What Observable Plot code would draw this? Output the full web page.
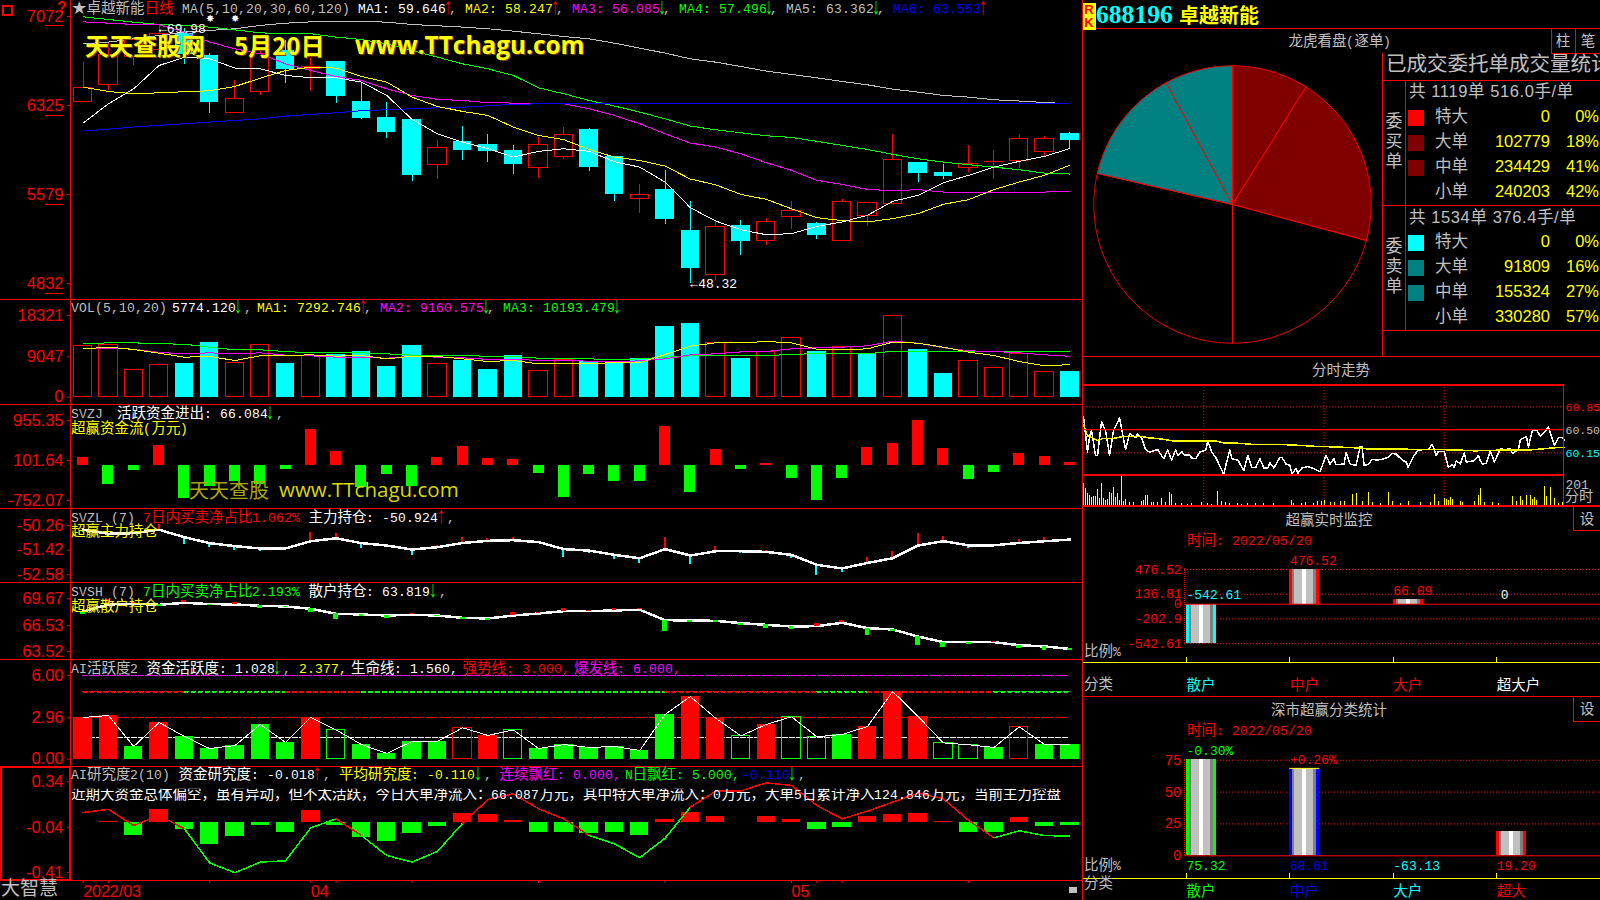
<!DOCTYPE html>
<html><head><meta charset="utf-8">
<script src="https://cdn.jsdelivr.net/npm/d3@7"></script>
<script src="https://cdn.jsdelivr.net/npm/@observablehq/plot@0.6"></script>
<style>
@font-face{font-family:LM;src:local("Liberation Mono");size-adjust:89%;unicode-range:U+20-7E,U+A0-FF,U+2190-2193;}
html,body{margin:0;padding:0;background:#000;}
#root{position:relative;width:1600px;height:900px;background:#000;overflow:hidden;font-family:LM,"Noto Sans CJK SC",sans-serif;font-size:14.5px;color:#c0c0c0;}
.t{position:absolute;white-space:pre;transform:translateY(-50%);line-height:1;}
.l{position:absolute;background:#f00;}
.ar{display:inline-block;font:17px/0 "Liberation Mono";vertical-align:baseline;}
.ar b{display:inline-block;font-weight:normal;transform:translateX(-3px) scale(.9,1.35);transform-origin:50% 60%;}
svg{display:block;}
</style></head><body><div id="root"></div>
<script>
const dates=["03-21","03-22","03-23","03-24","03-25","03-28","03-29","03-30","03-31","04-01","04-06","04-07","04-08","04-11","04-12","04-13","04-14","04-15","04-18","04-19","04-20","04-21","04-22","04-25","04-26","04-27","04-28","04-29","05-05","05-06","05-09","05-10","05-11","05-12","05-13","05-16","05-17","05-18","05-19","05-20"];
const open=[63.54,64.97,67.31,67.87,69.27,67.45,62.62,64.38,67.87,66.28,66.95,63.60,62.26,62.09,58.26,60.25,60.00,59.49,58.01,58.93,61.25,58.99,55.41,56.22,52.79,49.05,53.21,51.89,53.90,53.35,51.89,53.99,55.00,58.49,57.65,58.01,58.49,58.60,59.32,60.94];
const close=[64.74,67.51,68.71,69.27,67.54,63.54,63.82,67.59,66.28,66.47,64.02,62.17,61.00,57.40,59.71,59.49,59.41,58.32,59.97,60.80,58.07,55.80,55.78,53.71,49.60,53.10,51.87,53.51,54.44,52.37,55.19,55.11,58.71,57.56,57.31,58.32,58.54,60.47,60.47,60.33];
const high=[66.87,68.43,68.99,69.98,69.69,67.59,65.36,68.01,68.71,67.37,66.95,65.13,63.51,62.09,60.33,61.50,60.83,59.91,60.58,61.42,61.33,58.99,56.64,57.82,55.22,53.63,53.63,53.79,55.22,53.46,55.39,55.11,60.83,58.49,58.35,59.91,59.49,60.83,60.66,61.03];
const low=[63.54,64.52,66.61,67.26,66.70,62.62,62.62,64.10,65.13,64.46,63.46,62.09,60.53,56.92,57.06,58.65,58.49,57.48,57.17,58.74,57.73,55.22,54.16,53.29,48.32,48.60,50.69,51.53,52.87,52.03,51.89,53.12,55.00,56.81,57.06,57.65,57.06,57.98,58.93,59.57];
const ma5=[61.78,63.40,64.66,66.61,67.31,67.17,66.39,66.33,65.78,65.58,65.58,65.22,64.10,62.09,60.89,60.19,59.63,58.93,59.41,59.63,59.41,58.54,58.09,56.84,54.69,53.57,52.84,52.42,52.51,53.12,53.49,54.05,55.22,55.72,56.78,57.40,58.09,58.57,58.99,59.65];
const ma10=[64.80,64.43,64.24,64.32,64.41,64.49,64.85,65.55,66.19,66.47,66.39,65.69,65.22,63.96,63.18,62.76,62.42,61.45,60.75,60.39,59.57,58.93,58.65,58.18,57.09,56.61,55.80,55.39,54.60,53.85,53.60,53.49,53.77,54.19,54.97,55.36,56.20,56.84,57.40,58.25];
const ma20=[70.27,70.16,70.05,70.02,69.41,68.57,68.01,67.59,66.75,66.19,65.69,65.36,64.66,64.10,63.77,63.68,63.49,63.46,63.46,63.40,62.98,62.42,61.73,60.89,60.11,59.77,59.21,58.46,57.82,56.98,56.64,56.22,56.11,56.20,56.00,55.94,55.94,56.00,56.00,56.06];
const ma30=[70.69,70.47,70.24,70.05,69.97,69.83,69.60,69.35,69.27,69.27,68.99,68.79,68.43,67.87,67.31,66.75,66.33,65.78,64.74,64.24,63.68,63.21,62.70,62.14,61.53,61.22,60.97,60.72,60.58,60.25,59.91,59.57,59.16,58.79,58.51,58.29,58.09,57.87,57.59,57.51];
const ma60=[68.43,68.57,68.85,69.13,69.41,69.55,69.69,69.97,70.16,70.27,70.33,70.33,70.24,70.05,69.94,69.83,69.69,69.49,69.27,69.04,68.85,68.48,68.07,67.65,67.17,66.89,66.53,66.14,65.86,65.58,65.27,64.99,64.63,64.38,64.10,63.96,63.74,63.63,63.51,63.40];
const ma120=[61.11,61.28,61.45,61.59,61.73,61.87,62.00,62.14,62.37,62.51,62.65,62.82,62.90,62.98,63.07,63.12,63.23,63.35,63.40,63.43,63.46,63.46,63.46,63.46,63.46,63.46,63.46,63.46,63.46,63.40,63.40,63.40,63.40,63.40,63.40,63.40,63.40,63.40,63.40,63.40];
const vol=[11516,11740,6132,7254,7553,12264,7702,11740,7553,9198,9497,10245,6880,11591,7478,8300,6207,9273,5982,8226,8076,7927,8600,15853,16526,12189,8674,10021,13311,10245,11142,9721,18246,10694,5309,8151,6581,9721,5683,5774];
const volColor=["r","r","r","r","c","c","r","r","c","r","c","c","c","c","r","c","c","c","r","r","c","c","c","c","c","r","c","r","r","c","r","c","r","c","c","r","r","r","r","c"];
const volMa5=[10843,11217,10694,9871,8974,9123,8226,9273,9348,9497,9198,9348,8600,9198,9123,8600,8001,8226,7478,7478,7478,7777,7702,9572,11441,12189,12189,12488,12189,10768,10619,10843,12339,12114,11217,10095,9348,8001,7029,7293];
const volMa10=[10843,10993,10768,10021,9721,9946,9721,9946,9422,9273,8974,8899,8749,9198,8974,8824,8450,8525,8226,8226,8076,7927,8151,8600,9497,9721,10170,10245,10843,11067,11217,11516,12563,12114,11067,10394,10245,9946,9497,9161];
const volMa20=[11965,12189,12189,11965,11890,11217,10619,10619,10245,9946,9946,9946,9721,9422,9422,9422,9123,9123,8749,8749,8600,8375,8600,8974,9273,9273,9422,9273,9647,9721,9721,9721,10320,10170,10170,10170,10170,10170,10170,10193];
const flow=[171,-405,-107,427,-704,-448,-341,-400,-85,768,299,-462,-192,-448,171,405,149,128,-171,-683,-192,-341,-341,832,-576,341,-85,43,-277,-747,-277,384,469,960,363,-299,-149,256,192,66];
const zhuli=[-50.46,-50.65,-50.62,-50.46,-50.81,-51.09,-51.23,-51.34,-51.34,-51.00,-50.86,-51.09,-51.20,-51.39,-51.28,-51.08,-50.98,-50.95,-51.04,-51.37,-51.44,-51.64,-51.80,-51.37,-51.67,-51.47,-51.47,-51.50,-51.64,-52.11,-52.28,-52.02,-51.80,-51.20,-51.00,-51.19,-51.19,-51.08,-51.00,-50.92];
const zhuliDelta=[-.13,-.16,.05,.25,-.36,-.19,-.19,-.16,-.08,.41,.22,-.25,-.09,-.27,.09,.24,.11,.13,-.06,-.38,-.14,-.20,-.24,.55,-.41,.22,-.09,.05,-.17,-.49,-.17,.25,.31,.56,.22,-.16,-.09,.17,.17,.02];
const sanhu=[68.19,69.01,69.09,68.97,69.20,69.05,69.01,68.85,68.78,68.50,67.92,67.84,67.72,67.80,67.72,67.45,67.37,67.72,67.96,68.23,68.23,68.31,68.39,67.18,67.14,67.10,66.83,66.63,66.44,66.48,66.87,66.25,66.09,65.27,64.61,64.61,64.61,64.26,64.11,63.82];
const sanhuDelta=[-.39,.58,.16,-.19,.27,-.19,.19,-.27,-.12,-.39,-.62,-.19,-.31,.19,-.12,-.16,-.19,.39,.16,.31,.12,.23,.16,-1.28,-.23,-.19,-.31,-.43,-.35,.35,.31,-.82,-.23,-1.05,-.58,-.23,.12,-.35,-.47,-.16];
const active=[2.99,3.13,.91,2.63,1.63,.76,.98,2.49,1.20,2.99,2.10,1.05,.41,1.27,1.27,2.25,1.70,2.10,.76,1.05,.84,.91,.62,3.20,4.49,2.94,1.67,2.49,3.04,1.61,1.77,2.34,4.85,3.06,1.17,1.03,.84,2.32,1.05,1.03];
const activeKind=["R","R","G","R","G","G","G","G","G","R","g","G","G","G","G","r","R","g","G","G","G","G","G","G","R","R","g","R","g","g","G","R","R","R","g","g","G","r","G","G"];
const upperKind=["r","r","r","r","g","g","g","g","r","r","r","g","g","g","g","g","g","g","g","g","g","g","g","r","r","r","r","r","r","g","g","r","r","r","r","r","g","g","g","g"];
const activeLevels=[6,4.83,3,1.56];
const research=[.005,.008,-.107,.108,-.05,-.18,-.116,-.025,-.075,.10,-.017,-.124,-.157,-.091,-.033,.075,.066,.017,-.083,-.075,-.091,-.075,-.107,.025,.09,.05,.003,.05,.025,-.05,-.041,.05,.066,.075,.008,-.083,-.083,.041,-.033,-.018];
const researchAvg=[.087,.112,-.021,.062,-.048,-.330,-.412,-.324,-.313,-.040,.034,-.104,-.269,-.324,-.236,-.003,.194,.241,.117,.034,-.104,-.172,-.288,-.126,.131,.263,.266,.332,.310,.145,.034,.098,.172,.247,.200,.021,-.123,-.065,-.104,-.109];
const weekTicks=["03-21","03-22","03-28","04-01","04-06","04-11","04-18","04-25","05-05","05-06","05-09","05-16"];
const monthLabels=[["03-21","2022/03"],["04-01","04"],["05-05","05"]];
const pieLabels=["大单","中单","小单","小单","中单","大单"];
const pieValues=[102779,234429,240203,330280,155324,91809];
const pieFill=["#800000","#800000","#000000","#000000","#008080","#008080"];
const tickT=[0,1,2,3,4,6,7,9,11,13,15,18,21,23,26,27,29,31,33,37,40,42,44,46,47,49,50,53,54,56,58,61,62,64,66,70,71,73,74,77,80,82,84,86,88,90,92,93,95,98,99,101,103,104,106,107,109,112,115,118,121,123,125,126,130,131,133,136,138,139,140,142,144,147,150,152,154,156,159,161,162,165,167,170,172,174,176,177,180,182,184,185,186,188,190,191,195,197,198,199,201,203,205,208,210,213,214,217,218,221,222,224,226,228,232,235,237,239,240];
const tickP=[60.70,60.44,60.16,60.39,60.49,60.11,60.11,60.62,60.49,60.11,60.49,60.68,60.20,60.44,60.38,60.44,60.38,60.20,60.16,60.20,60.06,60.19,60.04,60.20,60.11,60.17,60.12,60.12,60.07,60.06,60.16,60.19,60.33,60.16,60.08,59.82,59.96,60.19,60.06,60.04,59.88,60.11,59.93,59.93,60.06,59.92,59.92,60.00,59.92,60.08,60.08,59.98,59.96,59.83,59.91,59.84,59.92,59.94,59.91,59.86,60.11,59.98,60.06,59.97,59.98,60.16,59.98,59.96,60.24,60.24,59.96,59.97,60.05,60.04,60.06,60.08,60.14,60.13,60.04,60.01,59.93,60.11,60.19,60.20,60.20,60.28,60.11,60.17,60.17,59.93,59.97,59.93,60.03,59.98,60.15,60.01,60.03,60.11,60.03,59.98,59.99,60.18,60.01,60.21,60.20,60.21,60.14,60.20,60.35,60.40,60.24,60.49,60.50,60.40,60.54,60.26,60.38,60.38,60.34];
const avgT=[0,2,7,10,15,20,29,32,39,45,55,66,70,75,84,95,104,115,125,134,142,155,167,177,189,195,207,221,229,236,240];
const avgP=[60.58,60.41,60.34,60.37,60.37,60.40,60.40,60.38,60.36,60.33,60.33,60.33,60.30,60.30,60.28,60.28,60.27,60.25,60.24,60.23,60.21,60.21,60.20,60.20,60.19,60.18,60.19,60.19,60.21,60.23,60.23];
const minT=[0,1,2,3,4,5,6,7,8,9,10,11,12,13,14,15,16,17,18,19,20,21,23,25,29,30,31,32,34,35,37,39,41,43,44,46,49,52,54,59,62,64,67,69,71,73,77,79,82,86,90,95,104,105,109,111,115,117,119,120,123,125,128,130,134,136,139,142,144,148,152,154,158,162,168,173,175,177,180,181,182,183,184,188,189,195,197,198,200,204,207,214,216,218,219,221,223,224,225,226,230,231,233,235,237,239];
const minV=[211,163,115,96,77,86,86,154,67,211,67,48,58,125,115,173,77,115,50,298,40,58,30,25,40,50,96,96,30,30,25,67,25,125,106,20,18,12,15,30,15,10,134,40,30,20,15,12,15,15,20,20,50,20,15,25,20,40,35,50,30,30,35,40,106,115,40,125,25,20,125,40,20,40,25,30,106,40,67,60,50,77,60,40,30,40,96,163,25,25,20,86,40,86,50,96,96,60,77,50,182,86,173,67,20,25];
const priceTicks=[[60.85,"60.85","#ff0000"],[60.50,"60.50","#c0c0c0"],[60.15,"60.15","#00ffff"]];
const cats=["散户","中户","大户","超大户"];
const monitor=[-542.61,476.52,66.09,0];
const monitorTicks=[476.52,136.81,0,-202.9,-542.61];
const monitorColor=["#00ffff","#ff0000","#ff0000","#ffffff"];
const cats2=["散户","中户","大户","超大"];
const share=[75.32,68.61,-63.13,19.20];
const shareEdge=["#00ff00","#0000ff","#00ffff","#ff0000"];
const shareChange=[["散户","-0.30%","#00ff00",75.32],["中户","+0.26%","#ff0000",68.61]];
const shareTicks=[75,50,25,0];

const root=document.getElementById("root");
const RED="#ff0000",CY="#00ffff",GR="#00ff00",MG="#ff00ff",YL="#ffff00",GY="#c0c0c0",WH="#ffffff",BL="#0000ff";
const rows=dates.map((d,i)=>({d,i,open:open[i],close:close[i],high:high[i],low:low[i],up:close[i]>=open[i]}));
const series=a=>dates.map((d,i)=>({d,v:a[i]}));
const crisp={shapeRendering:"crispEdges"};
const lineOf=(a,stroke,w=1)=>Plot.line(series(a),{x:"d",y:"v",stroke,strokeWidth:w,...crisp});
const bandX={type:"band",domain:dates,paddingInner:.27,paddingOuter:.135,round:false,axis:null};

function pane(top,h,domain,ticks,fmt,marks){
  const svg=Plot.plot({width:1082,height:h,marginLeft:70,marginRight:0,marginTop:0,marginBottom:0,
    style:{position:"absolute",left:"0px",top:top+"px",background:"transparent",overflow:"visible",color:RED},
    x:bandX,y:{domain,range:[h,0],axis:null},color:{type:"identity"},
    marks:[...marks,Plot.axisY(ticks,{anchor:"left",tickSize:3,tickPadding:4,tickFormat:fmt,color:RED,fontSize:16.5,fontFamily:"Liberation Sans",label:null})]});
  root.append(svg);return svg;
}
const hl=(x1,x2,y,w=1,c=RED)=>{const e=document.createElement("div");e.className="l";e.style.cssText=`left:${x1}px;top:${y}px;width:${x2-x1}px;height:${w}px;background:${c}`;root.append(e);};
const vl=(x,y1,y2,w=1,c=RED)=>{const e=document.createElement("div");e.className="l";e.style.cssText=`left:${x}px;top:${y1}px;width:${w}px;height:${y2-y1}px;background:${c}`;root.append(e);};
const T=(x,y,html,css="")=>{const plain=!/font/.test(css);const e=document.createElement("div");e.className="t";e.style.cssText=`left:${x}px;top:${y+(plain?1.5:0)}px;${css}`;e.innerHTML=html;root.append(e);return e;};
const s=(c,t)=>`<span style="color:${c}">${t}</span>`;
const arrow=(c,ch,w)=>`<span class="ar" style="color:${c};width:${w}px"><b>${ch}</b></span>`;
const up=arrow(RED,"↑",8),dn=arrow(GR,"↓",8),upN=arrow(RED,"↑",3),dnN=arrow(GR,"↓",3);
const gap=n=>`<span style="margin-left:${-n}px"> </span>`;

const main=pane(0,299,[46.99,72.06],[48.32,55.79,63.25,70.72],d=>String(Math.round(d*100)),[
  Plot.ruleX(rows,{x:"d",y1:"low",y2:"high",stroke:d=>d.up?RED:CY,...crisp}),
  Plot.barY(rows.filter(d=>d.up),{x:"d",y1:"open",y2:"close",fill:"#000",stroke:RED,...crisp}),
  Plot.barY(rows.filter(d=>!d.up),{x:"d",y1:"open",y2:"close",fill:CY,...crisp}),
  lineOf(ma60,GY),lineOf(ma30,GR),lineOf(ma20,MG),lineOf(ma120,BL),lineOf(ma10,YL),lineOf(ma5,WH),
  Plot.text([{d:"03-24",v:69.98,t:"←69.98"}],{x:"d",y:"v",text:"t",fill:WH,textAnchor:"start",dy:4,fontSize:13,fontFamily:"Liberation Mono"}),
  Plot.text([{d:"04-26",v:48.32,t:"←48.32"}],{x:"d",y:"v",text:"t",fill:WH,textAnchor:"start",fontSize:13,fontFamily:"Liberation Mono"}),
  Plot.text([{d:"03-28"},{d:"03-29"}],{x:"d",y:()=>70.52,text:()=>"✸",fill:WH,fontSize:10})
]);
[48.32,55.79,63.25,70.72].forEach(v=>hl(45,63,main.scale("y").apply(v)+9.5,1));

pane(299,105,[-1644,21907],[0,9047,18321],d=>String(d),[
  Plot.barY(series(vol).map((o,i)=>({...o,c:volColor[i]})).filter(o=>o.c==="c"),{x:"d",y1:()=>0,y2:"v",fill:CY,...crisp}),
  Plot.barY(series(vol).map((o,i)=>({...o,c:volColor[i]})).filter(o=>o.c==="r"),{x:"d",y1:()=>0,y2:"v",fill:"none",stroke:RED,...crisp}),
  lineOf(volMa20,GR),lineOf(volMa10,MG),lineOf(volMa5,YL)
]);

pane(404,104,[-918,1302],[955.35,101.64,-752.07],d=>d.toFixed(2),[
  Plot.barY(series(flow),{x:"d",y1:()=>0,y2:"v",fill:d=>d.v>=0?RED:GR,insetLeft:3.7,insetRight:3.7,...crisp})
]);

pane(508,74,[-52.94,-49.46],[-50.26,-51.42,-52.58],d=>d.toFixed(2),[
  Plot.barY(series(zhuli).map((o,i)=>({...o,e:o.v+zhuliDelta[i]})),{x:"d",y1:"v",y2:"e",fill:d=>d.e>=d.v?RED:CY,insetLeft:8.2,insetRight:8.2,...crisp}),
  lineOf(zhuli,WH,2.5)
]);

pane(582,77,[62.59,71.57],[69.67,66.53,63.52],d=>d.toFixed(2),[
  lineOf(sanhu,WH,2.5),
  Plot.barY(series(sanhu).map((o,i)=>({...o,e:o.v+sanhuDelta[i]})),{x:"d",y1:"v",y2:"e",fill:d=>d.e>=d.v?RED:GR,insetLeft:6.8,insetRight:6.8,...crisp})
]);

const kinds=series(active).map((o,i)=>({...o,k:activeKind[i]}));
pane(659,107,[-.526,7.146],[6,2.96,0],d=>d.toFixed(2),[
  Plot.line(dates,{x:d=>d,y:()=>activeLevels[0],stroke:MG,strokeDasharray:"4 3",...crisp}),
  Plot.line(dates,{x:d=>d,y:()=>activeLevels[1],stroke:(d,i)=>upperKind[i]==="r"?RED:GR,z:null,strokeDasharray:"4 3",...crisp}),
  Plot.line(dates,{x:d=>d,y:()=>activeLevels[2],stroke:RED,strokeDasharray:"4 3",...crisp}),
  Plot.line(dates,{x:d=>d,y:()=>activeLevels[3],stroke:WH,strokeDasharray:"4 3",...crisp}),
  Plot.barY(kinds.filter(o=>o.k==="R"||o.k==="G"),{x:"d",y1:()=>0,y2:"v",fill:o=>o.k==="R"?RED:GR,...crisp}),
  Plot.barY(kinds.filter(o=>o.k==="r"||o.k==="g"),{x:"d",y1:()=>0,y2:"v",fill:"none",stroke:o=>o.k==="r"?RED:GR,...crisp}),
  lineOf(active,WH)
]);

pane(766,114,[-.476,.467],[.34,-.04,-.41],d=>d.toFixed(2),[
  Plot.barY(series(research),{x:"d",y1:()=>0,y2:"v",fill:d=>d.v>=0?RED:GR,...crisp}),
  Plot.line(series(researchAvg),{x:"d",y:"v",stroke:d=>d.v>=-.03?RED:GR,z:null,...crisp})
]);

root.append(Plot.plot({width:1082,height:20,marginLeft:70,marginRight:0,marginTop:0,marginBottom:0,
  style:{position:"absolute",left:"0px",top:"880px",background:"transparent",color:RED},
  x:bandX,
  marks:[Plot.tickX(weekTicks,{x:d=>d,stroke:RED,insetBottom:17}),
    Plot.text(monthLabels,{x:d=>d[0],text:d=>d[1],textAnchor:"start",frameAnchor:"middle",dy:1,fill:RED,fontSize:16,fontFamily:"Liberation Sans"})]}));

const arcs=d3.pie().sort(null)(pieValues);
const pieMarks=arcs.map((a,i)=>{
  const pts=[[0,0],...d3.range(a.startAngle,a.endAngle,.01).map(t=>[Math.sin(t),Math.cos(t)]),[Math.sin(a.endAngle),Math.cos(a.endAngle)],[0,0]];
  return Plot.line(pts,{x:"0",y:"1",fill:pieFill[i],stroke:RED,strokeWidth:1,title:()=>pieLabels[i]});
});
root.append(Plot.plot({width:280,height:280,margin:0,
  style:{position:"absolute",left:"1092px",top:"64px",background:"transparent"},
  x:{domain:[-1,1],range:[1.3,278.7],axis:null},y:{domain:[-1,1],range:[278.7,1.3],axis:null},
  marks:pieMarks}));

const ptsP=tickT.map((t,i)=>({t,p:tickP[i]}));
const ptsA=avgT.map((t,i)=>({t,p:avgP[i]}));
root.append(Plot.plot({width:517,height:90,marginLeft:0,marginRight:36,marginTop:0,marginBottom:0,
  style:{position:"absolute",left:"1083px",top:"384px",background:"transparent",overflow:"visible"},
  x:{domain:[0,240],axis:null},y:{domain:[59.82,61.19],axis:null},
  marks:[
    Plot.ruleX([60,120,180],{stroke:RED,strokeDasharray:"1 2"}),
    Plot.ruleY([60.85,60.15],{stroke:RED,strokeDasharray:"1 2"}),
    Plot.ruleY([60.5],{stroke:RED,strokeWidth:1}),
    Plot.line(ptsP,{x:"t",y:"p",stroke:WH,...crisp}),
    Plot.line(ptsA,{x:"t",y:"p",stroke:YL,...crisp}),
    Plot.text(priceTicks,{frameAnchor:"right",y:d=>d[0],text:d=>d[1],fill:d=>d[2],textAnchor:"start",dx:1,fontSize:11.5,fontFamily:"Liberation Mono"})
  ]}));
root.append(Plot.plot({width:517,height:31,marginLeft:0,marginRight:36,marginTop:0,marginBottom:0,
  style:{position:"absolute",left:"1083px",top:"474px",background:"transparent",overflow:"visible"},
  x:{domain:[0,240],axis:null},y:{domain:[0,298],axis:null},
  marks:[
    Plot.ruleX([60,120,180],{stroke:RED,strokeDasharray:"1 2"}),
    Plot.ruleX(minT.map((t,i)=>({t,v:minV[i]})),{x:"t",y1:()=>0,y2:"v",stroke:YL,...crisp}),
    Plot.text([201],{frameAnchor:"right",y:d=>d,text:d=>String(d),fill:GY,textAnchor:"start",dx:1,fontSize:13,fontFamily:"Liberation Mono"})
  ]}));

const cyl=(data,edgeOf)=>[
  Plot.barY(data,{x:"c",y1:()=>0,y2:"v",fill:d=>edgeOf(d),...crisp}),
  Plot.barY(data,{x:"c",y1:()=>0,y2:"v",fill:"#808080",insetLeft:3,insetRight:3,...crisp}),
  Plot.barY(data,{x:"c",y1:()=>0,y2:"v",fill:"#c0c0c0",insetLeft:5,insetRight:6,...crisp}),
  Plot.barY(data,{x:"c",y1:()=>0,y2:"v",fill:WH,insetLeft:13,insetRight:13,...crisp})
];
const mon=cats.map((c,i)=>({c,v:monitor[i],col:monitorColor[i]}));
root.append(Plot.plot({width:518,height:191,marginLeft:102,marginRight:0,marginTop:0,marginBottom:0,
  style:{position:"absolute",left:"1082px",top:"505px",background:"transparent",overflow:"visible"},
  x:{type:"band",domain:cats,paddingInner:.71,paddingOuter:0,align:0,round:false,range:[104,444.2],axis:null},
  y:{domain:[-1269,1357],range:[191,0],axis:null},color:{type:"identity"},
  marks:[
    Plot.ruleY(monitorTicks.filter(d=>d!==0),{stroke:RED,strokeDasharray:"1 2"}),
    ...cyl(mon.filter(d=>d.v!==0),d=>d.col),
    Plot.ruleY([0],{stroke:RED}),
    Plot.axisY(monitorTicks,{anchor:"left",tickSize:0,tickPadding:3,tickFormat:d=>String(d),color:RED,fontSize:13,fontFamily:"Liberation Mono",label:null}),
    Plot.text(mon.filter(d=>d.v>0),{x:"c",y:"v",text:d=>d.v.toFixed(2),fill:"col",textAnchor:"start",dx:-15,dy:-9,fontSize:13,fontFamily:"Liberation Mono"}),
    Plot.text(mon.filter(d=>d.v<0),{x:"c",y:()=>0,text:d=>d.v.toFixed(2),fill:"col",textAnchor:"start",dx:-15,dy:-9,fontSize:13,fontFamily:"Liberation Mono"}),
    Plot.text(mon.filter(d=>d.v===0),{x:"c",y:()=>0,text:d=>"0",fill:"col",textAnchor:"start",dx:-11,dy:-9,fontSize:13,fontFamily:"Liberation Mono"})
  ]}));
const bracket=(top,h,list,colors,labelDy)=>root.append(Plot.plot({width:518,height:h,marginLeft:0,marginRight:0,marginTop:0,marginBottom:0,
  style:{position:"absolute",left:"1082px",top:top+"px",background:"transparent",overflow:"visible"},
  x:{type:"point",domain:list,padding:0,round:false,range:[104,414.2],axis:null},y:{domain:[0,1],range:[10,5],axis:null},color:{type:"identity"},
  marks:[
    Plot.ruleX(list,{x:d=>d,y1:()=>0,y2:()=>1,stroke:YL,...crisp}),
    Plot.ruleY([0],{stroke:YL,...crisp}),
    Plot.text(list,{x:d=>d,y:()=>0,text:d=>d,fill:(d,i)=>colors[i],textAnchor:"start",dy:labelDy,fontSize:14.5,fontFamily:"Noto Sans CJK SC"})
  ]}));
bracket(652,44,cats,monitorColor,23);

const shr=cats2.map((c,i)=>({c,v:share[i],col:shareEdge[i]}));
root.append(Plot.plot({width:518,height:170,marginLeft:102,marginRight:0,marginTop:0,marginBottom:0,
  style:{position:"absolute",left:"1082px",top:"696px",background:"transparent",overflow:"visible"},
  x:{type:"band",domain:cats2,paddingInner:.71,paddingOuter:0,align:0,round:false,range:[104,444.2],axis:null},
  y:{domain:[-8.4,125],range:[170,0],axis:null},color:{type:"identity"},
  marks:[
    Plot.ruleY(shareTicks.filter(d=>d!==0),{stroke:RED,strokeDasharray:"1 2"}),
    ...cyl(shr.filter(d=>d.v>0),d=>d.col),
    Plot.tickY([{c:"中户",v:68.61}],{x:"c",y:"v",stroke:YL}),
    Plot.ruleY([0],{stroke:RED}),
    Plot.axisY(shareTicks,{anchor:"left",tickSize:0,tickPadding:3,tickFormat:d=>String(d),color:RED,fontSize:14,fontFamily:"Liberation Mono",label:null}),
    Plot.text(shr,{x:"c",y:()=>-7.6,text:d=>d.v.toFixed(2),fill:"col",textAnchor:"start",dx:-15,fontSize:13,fontFamily:"Liberation Mono"}),
    Plot.text(shareChange,{x:d=>d[0],y:d=>d[3],text:d=>d[1],fill:d=>d[2],textAnchor:"start",dx:-15,dy:-9,fontSize:13,fontFamily:"Liberation Mono"})
  ]}));
bracket(868,32,cats2,shareEdge,13);

[299,404,508,582,659,766,880].forEach(y=>hl(0,1082,y));
vl(70,0,880);vl(1082,0,900);
hl(0,70,766,2);hl(0,70,879,2);vl(0,766,881,2);vl(69,766,881,2);
hl(1082,1600,28);hl(1082,1600,356);
vl(1382,53,356);hl(1383,1600,80);hl(1383,1600,205);hl(1383,1600,330);vl(1405,80,330);
vl(1551,28,53);hl(1551,1600,53);vl(1575,28,53);
hl(1083,1563,384,2);hl(1083,1563,429);hl(1083,1563,474,2);vl(1563,384,505);hl(1082,1600,505,2);
hl(1082,1600,696);
vl(1573,505,530);hl(1573,1600,530);vl(1573,696,721);hl(1573,1600,721);
const dotted=(x,y1,y2)=>{const e=document.createElement("div");e.style.cssText=`position:absolute;left:${x}px;top:${y1}px;height:${y2-y1}px;border-left:1px dotted ${RED}`;root.append(e);};
dotted(1184,568,643);dotted(1184,759,855);

T(2,3.5,"",`width:7px;height:7px;border:2px solid ${RED};transform:none;`);
T(57,8,"?",`color:${RED};font:bold 16px "Liberation Sans"`);
T(72,8,`★卓越新能${s(RED,"日线")} MA(5,10,20,30,60,120) ${s(WH,"MA1: 59.646")}${upN}, ${s(YL,"MA2: 58.247")}${upN}, ${s(MG,"MA3: 56.085")}${dnN}, ${s(GR,"MA4: 57.496")}${dnN}, ${s(GY,"MA5: 63.362")}${dnN}, ${s(BL,"MA6: 63.553")}${upN}`);
T(71,307,`VOL(5,10,20)${gap(3)}${s(WH,"5774.120")}${dn},${gap(3)}${s(YL,"MA1: 7292.746")}${upN}, ${s(MG,"MA2: 9160.575")}${dnN}, ${s(GR,"MA3: 10193.479")}${dnN}`);
T(71,413,`SVZJ ${gap(2)}${s(WH,"活跃资金进出: 66.084")}${dn},`);
T(71,428,s(YL,"超赢资金流(万元)"));
T(71,517,`SVZL (7) ${s(RED,"7日内买卖净占比1.062%")} ${s(WH,"主力持仓: -50.924")}${up},`);
T(71,531,s(YL,"超赢主力持仓"));
T(71,591,`SVSH (7) ${s(GR,"7日内买卖净占比2.193%")} ${s(WH,"散户持仓: 63.819")}${dn},`);
T(71,606,s(YL,"超赢散户持仓"));
T(71,668,`AI活跃度2 ${s(WH,"资金活跃度: 1.028")}${dn}, ${s(YL,"2.377,")}${gap(4)}${s(WH,"生命线: 1.560,")}${gap(4)}${s(RED,"强势线: 3.000,")}${gap(4)}${s(MG,"爆发线: 6.000,")}`);
T(71,774,`AI研究度2(10) ${s(WH,"资金研究度: -0.018")}${up}, ${s(YL,"平均研究度: -0.110")}${dn}, ${s(MG,"连续飘红: 0.000,")}${gap(5)}${s(GR,"N日飘红: 5.000,")}${gap(6)}${s(BL,"-0.110")}${dn},`);
T(71,794,"近期大资金总体偏空\uFF0C虽有异动\uFF0C但不太活跃\uFF0C今日大单净流入\uFF1A66.087万元\uFF0C其中特大单净流入\uFF1A0万元\uFF0C大单5日累计净入124.846万元\uFF0C当前主力控盘",`color:${WH};width:1011px;overflow:hidden;`);
T(1,890,"大智慧",`font-size:19px;color:${GY}`);
T(1069,885,"",`width:8px;height:6px;background:${GY};transform:none;`);

const wm=`color:${YL};font:bold 24px "Noto Sans CJK SC";text-shadow:1px 1px 0 #804000;`;
T(85,44,"天天查股网",wm);T(234,44,"5月20日",wm);T(355,44,"www.TTchagu.com",`color:${YL};font:bold 24.4px "Open Sans";text-shadow:1px 1px 0 #804000;`);
T(189,489,"天天查股",`color:#a8a800;font:20px "Noto Sans CJK SC"`);T(279,489,"www.TTchagu.com",`color:#d8d800;font:20.5px "Open Sans"`);

T(1082.5,1,`<span style="display:block;line-height:13.5px;width:13px;text-align:center;background:${YL};color:${RED};font:bold 13px/13.5px 'Liberation Sans'">R<br>K</span>`,"transform:none;");
T(1096,15,"688196",`color:${CY};font:bold 25.6px "Liberation Serif"`);
T(1179,14,"卓越新能",`color:${YL};font:bold 20px "Noto Sans CJK SC"`);
const C=(x,y,t,css="")=>T(x,y,t,`transform:translate(-50%,-50%);${css}`);
C(1340,41,"龙虎看盘(逐单)");
C(1563,41,"柱");C(1588,41,"笔");
T(1386,66,"已成交委托单成交量统计",`font-size:20.5px;`);
const F=`font-family:"Liberation Sans","Noto Sans CJK SC";font-size:16.5px;`;
T(1409,91,"共 1119单 516.0手/单",F+"letter-spacing:.6px;");T(1409,216.5,"共 1534单 376.4手/单",F+"letter-spacing:.6px;");
const buyT=[["特大","0","0%",RED],["大单","102779","18%","#800000"],["中单","234429","41%","#800000"],["小单","240203","42%",null]];
const sellT=[["特大","0","0%",CY],["大单","91809","16%","#008080"],["中单","155324","27%","#008080"],["小单","330280","57%",null]];
const tbl=(list,y0)=>list.forEach((r,i)=>{const y=y0+i*25;
  if(r[3]) T(1408,y-8,"",`width:16px;height:16px;background:${r[3]};transform:none;`);
  T(1435,y,r[0],F);
  T(1440,y,r[1],F+`color:${YL};width:110px;text-align:right;`);
  T(1559,y,r[2],F+`color:${YL};width:40px;text-align:right;`);
});
tbl(buyT,116);tbl(sellT,241);
["委","买","单"].forEach((t,i)=>C(1394,123+i*20,t,"font-size:17px;"));
["委","卖","单"].forEach((t,i)=>C(1394,248+i*20,t,"font-size:17px;"));
C(1341,370,"分时走势");
T(1565,498,"分时","font-size:14px;");
C(1329,520,"超赢实时监控");C(1587,519,"设");
T(1187,540,"时间: 2022/05/20",`color:${RED}`);
T(1084,651,"比例%");T(1084,684,"分类");
C(1329,710,"深市超赢分类统计");C(1587,709,"设");
T(1187,730,"时间: 2022/05/20",`color:${RED}`);
T(1084,865,"比例%");T(1084,883,"分类");
</script></body></html>
